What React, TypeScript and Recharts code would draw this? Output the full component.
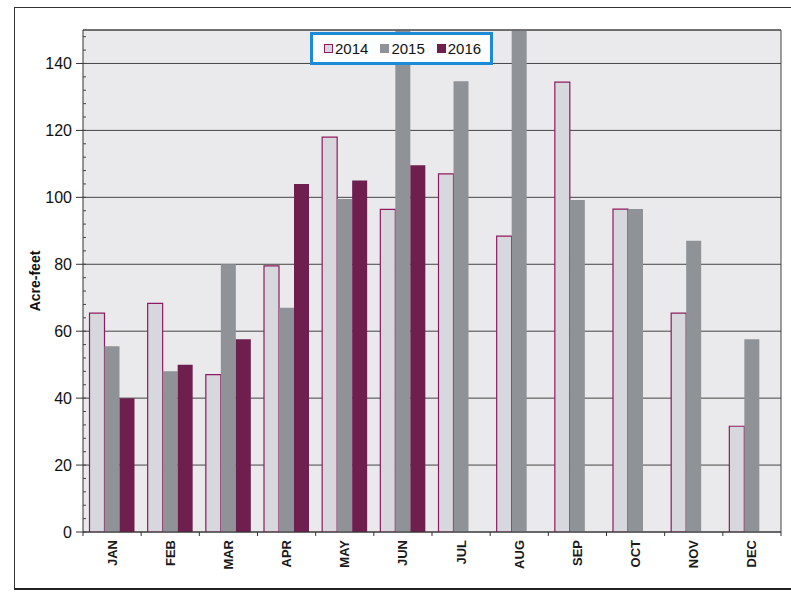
import React from 'react';
import { BarChart, Bar, XAxis, YAxis, CartesianGrid, ReferenceLine, Legend } from 'recharts';

const months = ['JAN', 'FEB', 'MAR', 'APR', 'MAY', 'JUN', 'JUL', 'AUG', 'SEP', 'OCT', 'NOV', 'DEC'];
const series2014 = [65.4, 68.3, 47, 79.5, 118, 96.4, 107, 88.4, 134.4, 96.5, 65.4, 31.6];
const series2015 = [55.5, 48, 80, 67, 99.5, 158, 134.7, 158, 99.2, 96.5, 87, 57.6];
const series2016: (number | null)[] = [40, 50, 57.6, 104, 105, 109.6, null, null, null, null, null, null];
const seriesNames = ['2014', '2015', '2016'];
const yTicks = [0, 20, 40, 60, 80, 100, 120, 140];
const yMinorTicks = [0, 4, 8, 12, 16, 20, 24, 28, 32, 36, 40, 44, 48, 52, 56, 60, 64, 68, 72, 76, 80, 84, 88, 92, 96, 100, 104, 108, 112, 116, 120, 124, 128, 132, 136, 140, 144, 148];
const yMax = 150;

const data = months.map((m, i) => ({
  month: m,
  y2014: series2014[i],
  y2015: series2015[i],
  y2016: series2016[i],
}));

const FONT = '"Liberation Sans", Arial, sans-serif';
const seriesStyles = [
  { fill: '#d6d8dd', stroke: '#8e1b5f' },
  { fill: '#8f9297', stroke: '#8f9297' },
  { fill: '#6e1f4e', stroke: '#6e1f4e' },
];

const MonthTick = (props: any) => {
  const { x, y, payload, index } = props;
  const half = payload && typeof payload.offset === 'number' && payload.offset > 0 ? payload.offset : 29;
  const axisY = y - 8;
  return (
    <g>
      <line x1={x - half} x2={x - half} y1={axisY} y2={axisY + 4} stroke="#333" />
      {index === months.length - 1 && (
        <line x1={x + half} x2={x + half} y1={axisY} y2={axisY + 4} stroke="#333" />
      )}
      <text
        x={x}
        y={y}
        transform={`rotate(-90, ${x}, ${y})`}
        textAnchor="end"
        dominantBaseline="central"
        fontSize={13}
        fontWeight="bold"
        fontFamily={FONT}
        fill="#1a1a1a"
      >
        {payload.value}
      </text>
    </g>
  );
};

const LegendBox = () => (
  <div
    style={{
      boxSizing: 'border-box',
      width: 183,
      height: 33,
      border: '3px solid #1c8ad4',
      background: '#fdfdfd',
      display: 'flex',
      alignItems: 'center',
      paddingLeft: 11,
      fontFamily: FONT,
      fontSize: 15,
      color: '#111',
    }}
  >
    {seriesNames.map((name, i) => (
      <div key={name} style={{ display: 'flex', alignItems: 'center', marginRight: 12 }}>
        <span
          style={{
            display: 'inline-block',
            boxSizing: 'border-box',
            width: 9,
            height: 9,
            background: seriesStyles[i].fill,
            border: `1.5px solid ${seriesStyles[i].stroke}`,
            marginRight: 2,
          }}
        />
        <span>{name}</span>
      </div>
    ))}
  </div>
);

export default function App() {
  return (
    <div style={{ position: 'absolute', left: 0, top: 0, width: 791, height: 592, background: '#ffffff', overflow: 'hidden' }}>
      <div
        style={{
          position: 'absolute',
          left: 14,
          top: 7,
          width: 790,
          height: 583,
          borderLeft: '1.5px solid #333',
          borderTop: '1.5px solid #333',
          borderBottom: '2px solid #222',
          boxSizing: 'border-box',
        }}
      />
      <div style={{ position: 'absolute', left: 0, top: 0 }}>
        <BarChart
          width={791}
          height={592}
          data={data}
          margin={{ top: 30, right: 10, bottom: 0, left: 0 }}
          barCategoryGap={6.5}
          barGap={0}
        >
          <CartesianGrid vertical={false} stroke="#454545" strokeWidth={1} fill="#eaeaec" />
          <XAxis
            dataKey="month"
            interval={0}
            height={60}
            tickLine={false}
            tickSize={4}
            tickMargin={4}
            axisLine={{ stroke: '#333' }}
            tick={<MonthTick />}
          />
          <YAxis
            domain={[0, yMax]}
            ticks={yTicks}
            allowDataOverflow
            width={83}
            tickSize={7}
            tickMargin={4}
            axisLine={{ stroke: '#333' }}
            tickLine={{ stroke: '#333' }}
            tick={{ fontSize: 16, fill: '#111', fontFamily: FONT }}
            label={{
              value: 'Acre-feet',
              angle: -90,
              position: 'center',
              dx: -6,
              style: { fontSize: 14, fontWeight: 'bold', fill: '#111', fontFamily: FONT },
            }}
          />
          <YAxis
            yAxisId="minor"
            domain={[0, yMax]}
            ticks={yMinorTicks}
            allowDataOverflow
            mirror
            width={4}
            axisLine={false}
            tickSize={3}
            tickLine={{ stroke: '#444' }}
            tickFormatter={() => ''}
          />
          <YAxis
            yAxisId="right"
            orientation="right"
            domain={[0, yMax]}
            mirror
            width={4}
            tick={false}
            tickLine={false}
            axisLine={{ stroke: '#444' }}
          />
          <ReferenceLine y={yMax} stroke="#444" strokeWidth={1} />
          <Legend
            verticalAlign="middle"
            align="center"
            content={() => <LegendBox />}
            wrapperStyle={{ position: 'absolute', left: 310, top: 32, width: 183, height: 33 }}
          />
          {['y2014', 'y2015', 'y2016'].map((key, i) => (
            <Bar
              key={key}
              dataKey={key}
              name={seriesNames[i]}
              fill={seriesStyles[i].fill}
              stroke={seriesStyles[i].stroke}
              strokeWidth={i === 0 ? 1.2 : 0}
              isAnimationActive={false}
            />
          ))}
        </BarChart>
      </div>
    </div>
  );
}
